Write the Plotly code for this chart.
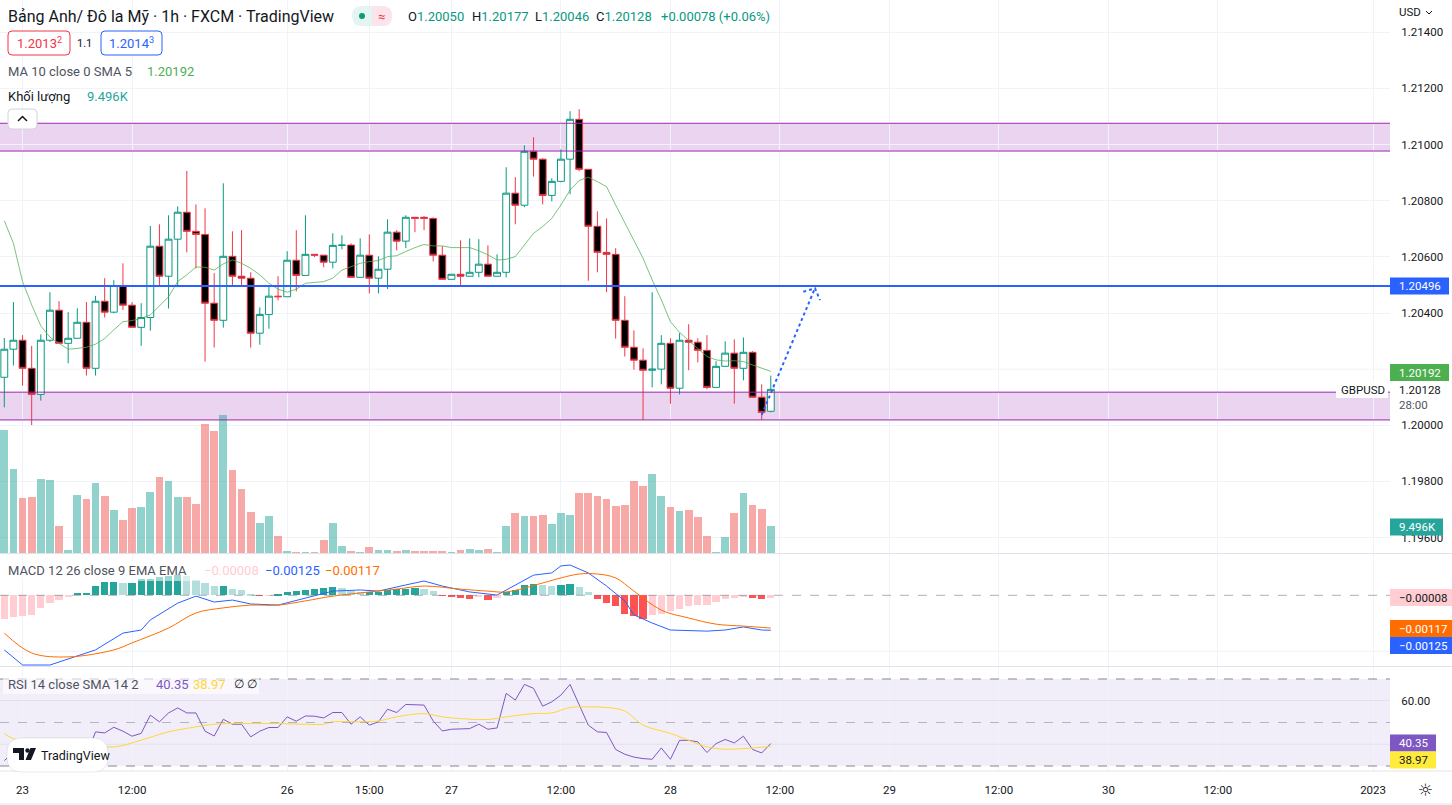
import plotly.graph_objects as go

# ---------------- data ----------------
bar_index = list(range(85))
opens = [1.20171, 1.20271, 1.20303, 1.20203, 1.20110, 1.20303, 1.20410, 1.20292, 1.20310, 1.20367,
         1.20203, 1.20442, 1.20403, 1.20498, 1.20428, 1.20349, 1.20384, 1.20638, 1.20531, 1.20663,
         1.20759, 1.20691, 1.20680, 1.20435, 1.20374, 1.20602, 1.20531, 1.20524, 1.20328, 1.20395,
         1.20460, 1.20458, 1.20588, 1.20534, 1.20609, 1.20606, 1.20581, 1.20641, 1.20642, 1.20527,
         1.20606, 1.20524, 1.20556, 1.20688, 1.20656, 1.20741, 1.20741, 1.20737, 1.20606, 1.20520,
         1.20538, 1.20531, 1.20545, 1.20574, 1.20531, 1.20545, 1.20827, 1.20784, 1.20976, 1.20948,
         1.20819, 1.20869, 1.20948, 1.21090, 1.20912, 1.20709, 1.20616, 1.20609, 1.20374, 1.20278,
         1.20232, 1.20196, 1.20200, 1.20292, 1.20132, 1.20303, 1.20296, 1.20267, 1.20135, 1.20210,
         1.20257, 1.20203, 1.20260, 1.20100, 1.20050]
highs = [1.20311, 1.20439, 1.20321, 1.20283, 1.20324, 1.20474, 1.20442, 1.20403, 1.20417, 1.20439,
         1.20461, 1.20524, 1.20517, 1.20577, 1.20439, 1.20435, 1.20710, 1.20716, 1.20748, 1.20780,
         1.20906, 1.20787, 1.20773, 1.20542, 1.20862, 1.20691, 1.20695, 1.20545, 1.20420, 1.20499,
         1.20531, 1.20620, 1.20695, 1.20748, 1.20609, 1.20606, 1.20684, 1.20677, 1.20648, 1.20666,
         1.20680, 1.20602, 1.20734, 1.20695, 1.20748, 1.20741, 1.20745, 1.20741, 1.20638, 1.20538,
         1.20659, 1.20666, 1.20663, 1.20641, 1.20609, 1.20919, 1.20884, 1.20997, 1.21026, 1.20951,
         1.20880, 1.20983, 1.21119, 1.21126, 1.20912, 1.20762, 1.20737, 1.20631, 1.20460, 1.20338,
         1.20274, 1.20474, 1.20321, 1.20310, 1.20328, 1.20360, 1.20310, 1.20321, 1.20228, 1.20299,
         1.20306, 1.20313, 1.20264, 1.20146, 1.20177]
lows = [1.20064, 1.20213, 1.20141, 1.20001, 1.20088, 1.20297, 1.20292, 1.20221, 1.20310, 1.20177,
        1.20177, 1.20384, 1.20399, 1.20411, 1.20349, 1.20283, 1.20337, 1.20499, 1.20416, 1.20492,
        1.20616, 1.20559, 1.20227, 1.20277, 1.20348, 1.20495, 1.20495, 1.20277, 1.20287, 1.20344,
        1.20445, 1.20458, 1.20477, 1.20534, 1.20599, 1.20563, 1.20559, 1.20627, 1.20527, 1.20527,
        1.20470, 1.20470, 1.20485, 1.20623, 1.20631, 1.20688, 1.20695, 1.20584, 1.20520, 1.20520,
        1.20499, 1.20531, 1.20527, 1.20531, 1.20531, 1.20527, 1.20716, 1.20777, 1.20886, 1.20787,
        1.20798, 1.20866, 1.20823, 1.20905, 1.20515, 1.20545, 1.20474, 1.20309, 1.20245, 1.20198,
        1.20019, 1.20135, 1.20146, 1.20077, 1.20110, 1.20196, 1.20224, 1.20128, 1.20135, 1.20210,
        1.20077, 1.20160, 1.20100, 1.20019, 1.20046]
closes = [1.20271, 1.20303, 1.20203, 1.20110, 1.20303, 1.20410, 1.20292, 1.20310, 1.20367, 1.20203,
          1.20442, 1.20403, 1.20498, 1.20428, 1.20349, 1.20384, 1.20638, 1.20531, 1.20663, 1.20759,
          1.20691, 1.20680, 1.20435, 1.20374, 1.20602, 1.20531, 1.20524, 1.20328, 1.20395, 1.20460,
          1.20458, 1.20588, 1.20534, 1.20609, 1.20606, 1.20581, 1.20641, 1.20642, 1.20527, 1.20606,
          1.20524, 1.20556, 1.20688, 1.20656, 1.20741, 1.20737, 1.20737, 1.20606, 1.20520, 1.20538,
          1.20531, 1.20545, 1.20574, 1.20531, 1.20545, 1.20827, 1.20784, 1.20976, 1.20948, 1.20819,
          1.20869, 1.20948, 1.21090, 1.20912, 1.20709, 1.20616, 1.20609, 1.20374, 1.20278, 1.20232,
          1.20196, 1.20200, 1.20292, 1.20132, 1.20303, 1.20296, 1.20267, 1.20135, 1.20210, 1.20257,
          1.20203, 1.20260, 1.20100, 1.20046, 1.20128]
volume_k = [42.9, 29.3, 19.2, 19.6, 25.9, 25.5, 9.5, 1.2, 20.3, 18.9,
            24.5, 19.9, 15.1, 11.6, 15.8, 16.1, 21.3, 26.5, 25.2, 19.6,
            19.6, 17.2, 45.0, 42.5, 48.1, 29.0, 22.4, 14.4, 10.5, 13.0,
            6.0, 0.8, 0.5, 0.5, 0.5, 4.6, 10.5, 2.6, 0.8, 0.5,
            2.2, 1.2, 1.2, 0.8, 1.2, 0.8, 0.8, 0.8, 0.8, 0.5,
            1.2, 1.5, 1.2, 1.5, 0.5, 9.5, 14.0, 13.0, 13.0, 13.3,
            10.2, 14.0, 13.3, 21.0, 21.0, 19.9, 18.9, 16.5, 16.8, 25.2,
            23.4, 27.6, 19.9, 16.1, 14.7, 15.1, 12.6, 6.0, 0.5, 5.7,
            14.0, 21.0, 16.8, 15.4, 9.496]
ma10 = [1.20729, 1.20648, 1.20512, 1.20429, 1.20354, 1.20314, 1.20292, 1.20271, 1.20274, 1.20278,
        1.20289, 1.20309, 1.20340, 1.20369, 1.20373, 1.20381, 1.20393, 1.20425, 1.20458, 1.20512,
        1.20536, 1.20564, 1.20563, 1.20553, 1.20575, 1.20589, 1.20577, 1.20559, 1.20536, 1.20506,
        1.20485, 1.20474, 1.20485, 1.20506, 1.20508, 1.20512, 1.20524, 1.20553, 1.20565, 1.20577,
        1.20583, 1.20587, 1.20601, 1.20604, 1.20619, 1.20633, 1.20644, 1.20639, 1.20639, 1.20633,
        1.20633, 1.20633, 1.20622, 1.20607, 1.20589, 1.20591, 1.20601, 1.20642, 1.20684, 1.20708,
        1.20737, 1.20785, 1.20838, 1.20872, 1.20884, 1.20868, 1.20850, 1.20785, 1.20720, 1.20660,
        1.20595, 1.20518, 1.20447, 1.20369, 1.20331, 1.20302, 1.20274, 1.20245, 1.20233, 1.20229,
        1.20230, 1.20227, 1.20215, 1.20203, 1.20192]
macd_hist = [-0.00083, -0.00077, -0.00075, -0.00069, -0.00045, -0.00027, -0.00015, -0.00007, 0.00008, 0.00008,
             0.00032, 0.00048, 0.00048, 0.00044, 0.00044, 0.00058, 0.00058, 0.00065, 0.00068, 0.00074,
             0.00070, 0.00056, 0.00044, 0.00032, 0.00032, 0.00024, 0.00018, 0.00006, -0.00001, -0.00001,
             0.00002, 0.00012, 0.00017, 0.00020, 0.00023, 0.00026, 0.00029, 0.00026, 0.00017, 0.00012,
             0.00012, 0.00012, 0.00018, 0.00023, 0.00023, 0.00026, 0.00024, 0.00014, -0.00002, -0.00006,
             -0.00010, -0.00012, -0.00006, -0.00015, -0.00010, 0.00011, 0.00018, 0.00036, 0.00042, 0.00036,
             0.00035, 0.00036, 0.00040, 0.00030, 0.00012, -0.00012, -0.00027, -0.00039, -0.00067, -0.00075,
             -0.00083, -0.00069, -0.00067, -0.00057, -0.00048, -0.00037, -0.00033, -0.00033, -0.00025, -0.00012,
             -0.00010, -0.00006, -0.00010, -0.00012, -0.00008]
macd_idx = [0, 2, 5, 10, 13, 15, 16, 19, 21, 23, 25, 27, 30, 33, 36, 39, 41, 44, 46, 48,
            51, 54, 55, 58, 60, 61, 62, 64, 66, 68, 69, 71, 73, 77, 79, 81, 83, 84]
macd_val = [-0.00195, -0.00249, -0.00249, -0.00195, -0.00135, -0.00124, -0.00088, -0.00028, -0.00003, -0.00024,
            -0.00017, -0.00031, -0.00035, -0.00010, 0.00015, 0.00019, 0.00015, 0.00037, 0.00051, 0.00033,
            0.00012, 0.00001, 0.00019, 0.00072, 0.00080, 0.00105, 0.00108, 0.00080, 0.00033, -0.00020,
            -0.00070, -0.00099, -0.00124, -0.00128, -0.00124, -0.00113, -0.00124, -0.00125]
signal_idx = [0, 3, 7, 12, 14, 18, 21, 24, 27, 30, 33, 36, 40, 43, 46, 50, 53, 55, 59, 61,
              63, 65, 67, 69, 72, 75, 78, 81, 84]
signal_val = [-0.00135, -0.00206, -0.00220, -0.00195, -0.00170, -0.00117, -0.00063, -0.00045, -0.00035, -0.00035,
              -0.00020, -0.00003, 0.00012, 0.00022, 0.00033, 0.00022, 0.00015, 0.00012, 0.00044, 0.00062,
              0.00076, 0.00076, 0.00062, 0.00015, -0.00053, -0.00081, -0.00103, -0.00110, -0.00117]
rsi = [32.5, 36.0, 33.0, 29.0, 38.0, 41.0, 38.0, 39.0, 41.0, 35.0,
       45.7, 45.2, 47.8, 46.0, 43.7, 45.0, 53.4, 50.3, 54.4, 56.7,
       54.4, 54.4, 46.0, 43.8, 51.5, 49.2, 49.2, 43.4, 46.0, 47.7,
       47.7, 52.6, 50.6, 53.0, 52.9, 52.1, 54.6, 54.6, 49.2, 52.6,
       48.8, 50.3, 56.1, 54.6, 58.3, 58.3, 58.0, 50.7, 46.1, 46.9,
       46.9, 47.2, 49.2, 46.9, 47.5, 63.4, 60.3, 67.5, 65.7, 57.5,
       59.5, 62.6, 67.5, 58.0, 48.8, 45.7, 45.4, 37.6, 35.4, 34.1,
       33.4, 33.1, 38.3, 33.1, 41.8, 41.8, 41.1, 36.2, 40.3, 42.2,
       40.6, 43.7, 37.6, 36.0, 40.35]
rsi_ma_idx = [0, 1, 12, 14, 16, 18, 21, 23, 25, 27, 30, 33, 35, 36, 39, 41, 43, 46, 48, 50,
              53, 55, 58, 60, 62, 64, 66, 68, 70, 73, 75, 77, 79, 81, 84]
rsi_ma_val = [45.0, 42.6, 38.8, 40.6, 43.2, 45.7, 48.0, 49.2, 49.5, 49.5,
              49.5, 49.2, 49.2, 50.3, 50.3, 50.7, 52.6, 54.1, 52.6, 51.8,
              51.4, 52.6, 54.1, 54.4, 56.9, 57.2, 56.9, 55.3, 48.8, 45.0,
              41.8, 38.8, 37.7, 38.0, 38.97]
time_tick_idx = [2, 14, 31, 40, 49, 61, 73, 85, 97, 109, 121, 133, 150]
time_tick_text = ["23", "12:00", "26", "15:00", "27", "12:00", "28", "12:00", "29", "12:00", "30", "12:00", "2023"]
price_ticks = [1.196, 1.198, 1.200, 1.204, 1.206, 1.208, 1.210, 1.212, 1.214]
covered_price_grid = [1.202]
macd_grid = [-0.002]
rsi_ticks = [60]
rsi_grid = [40]
zone_upper = [1.20977, 1.21076]
zone_lower = [1.20019, 1.20118]
hline_price = 1.20496
arrow_idx = [83.0, 88.84]
arrow_price = [1.20037, 1.20488]
arrow_head_idx = [87.56, 88.84, 89.39]
arrow_head_price = [1.20476, 1.20488, 1.20446]

# ---------------- geometry / style ----------------
W, H = 1452, 805
MR, MB = 62, 34
PW, PH = W - MR, H - MB
FONT = "Roboto"
DARK = "#131722"
GREEN = "#089981"
RED = "#F23645"
GRID = "#F0F3FA"


def PX(x):
    return x / PW


def PY(y):
    return 1 - y / PH


fig = go.Figure()

vol_colors = ["rgba(38,166,154,0.5)" if c >= o else "rgba(239,83,80,0.5)" for o, c in zip(opens, closes)]
fig.add_trace(go.Bar(x=bar_index, y=volume_k, marker=dict(color=vol_colors, line=dict(width=0)),
                     width=0.86, xaxis="x", yaxis="y", hoverinfo="skip"))
fig.add_trace(go.Candlestick(x=bar_index, open=opens, high=highs, low=lows, close=closes,
                             increasing=dict(line=dict(color=GREEN, width=1), fillcolor="#FFFFFF"),
                             decreasing=dict(line=dict(color=RED, width=1), fillcolor="#000000"),
                             whiskerwidth=0, xaxis="x", yaxis="y2", hoverinfo="skip"))
fig.add_trace(go.Scatter(x=bar_index, y=ma10, mode="lines", line=dict(color="rgba(76,175,80,0.75)", width=1),
                         xaxis="x", yaxis="y2", hoverinfo="skip"))
fig.add_trace(go.Scatter(x=arrow_idx, y=arrow_price, mode="lines",
                         line=dict(color="#2962FF", width=2, dash="dot"), xaxis="x", yaxis="y2", hoverinfo="skip"))
fig.add_trace(go.Scatter(x=arrow_head_idx, y=arrow_head_price, mode="lines",
                         line=dict(color="#2962FF", width=2, dash="dot"), xaxis="x", yaxis="y2", hoverinfo="skip"))

# MACD
hist_colors = []
for i, v in enumerate(macd_hist):
    prev = macd_hist[i - 1] if i > 0 else v
    if v >= 0:
        hist_colors.append("#26A69A" if v >= prev else "#B2DFDB")
    else:
        hist_colors.append("#FFCDD2" if v >= prev else "#FF5252")
fig.add_trace(go.Bar(x=bar_index, y=macd_hist, marker=dict(color=hist_colors, line=dict(width=0)),
                     width=0.8, xaxis="x", yaxis="y3", hoverinfo="skip"))
fig.add_trace(go.Scatter(x=macd_idx, y=macd_val, mode="lines", line=dict(color="#2962FF", width=1),
                         xaxis="x", yaxis="y3", hoverinfo="skip"))
fig.add_trace(go.Scatter(x=signal_idx, y=signal_val, mode="lines", line=dict(color="#FF6D00", width=1),
                         line_shape="spline", xaxis="x", yaxis="y3", hoverinfo="skip"))

# RSI
fig.add_trace(go.Scatter(x=bar_index, y=rsi, mode="lines", line=dict(color="#7E57C2", width=1),
                         xaxis="x", yaxis="y4", hoverinfo="skip"))
fig.add_trace(go.Scatter(x=rsi_ma_idx, y=rsi_ma_val, mode="lines", line=dict(color="#FDD835", width=1),
                         line_shape="spline", xaxis="x", yaxis="y4", hoverinfo="skip"))

x_lo = (0 - 4.3) / 9.125
x_hi = (PW - 4.3) / 9.125

shapes = []
annotations = []
# grid lines whose labels are covered in the reference
for gv in covered_price_grid:
    shapes.append(dict(type="line", xref="paper", yref="y2", x0=0, x1=1, y0=gv, y1=gv,
                       line=dict(color=GRID, width=1), layer="below"))
for gv in macd_grid:
    shapes.append(dict(type="line", xref="paper", yref="y3", x0=0, x1=1, y0=gv, y1=gv,
                       line=dict(color=GRID, width=1), layer="below"))
for gv in rsi_grid:
    shapes.append(dict(type="line", xref="paper", yref="y4", x0=0, x1=1, y0=gv, y1=gv,
                       line=dict(color="rgba(120,123,134,0.12)", width=1), layer="below"))
# zones
for z in (zone_upper, zone_lower):
    shapes.append(dict(type="rect", xref="paper", yref="y2", x0=0, x1=1, y0=z[0], y1=z[1],
                       fillcolor="rgba(156,39,176,0.2)", line=dict(width=0), layer="below"))
    for yy in z:
        shapes.append(dict(type="line", xref="paper", yref="y2", x0=0, x1=1, y0=yy, y1=yy,
                           line=dict(color="#9C27B0", width=1)))
shapes.append(dict(type="line", xref="paper", yref="y2", x0=0, x1=1, y0=hline_price, y1=hline_price,
                   line=dict(color="#2962FF", width=2)))
# macd zero line
shapes.append(dict(type="line", xref="paper", yref="y3", x0=0, x1=1, y0=0, y1=0,
                   line=dict(color="rgba(120,123,134,0.6)", width=1, dash="dash")))
# rsi band
shapes.append(dict(type="rect", xref="paper", yref="y4", x0=0, x1=1, y0=30, y1=70,
                   fillcolor="rgba(126,87,194,0.1)", line=dict(width=0), layer="below"))
for lv, col in ((70, "rgba(120,123,134,0.9)"), (50, "rgba(120,123,134,0.5)"), (30, "rgba(120,123,134,0.9)")):
    shapes.append(dict(type="line", xref="paper", yref="y4", x0=0, x1=1, y0=lv, y1=lv,
                       line=dict(color=col, width=1, dash="dash")))
# pane separators
for yy in (553.5, 666.5, 771, 804):
    shapes.append(dict(type="line", xref="paper", yref="paper", x0=0, x1=W / PW, y0=PY(yy), y1=PY(yy),
                       line=dict(color="#E0E3EB", width=1)))


def rect_px(x0, y0, x1, y1, fill, line_color=None, lw=1, layer="above"):
    shapes.append(dict(type="rect", xref="paper", yref="paper", x0=PX(x0), x1=PX(x1), y0=PY(y1), y1=PY(y0),
                       fillcolor=fill, line=dict(color=line_color or "rgba(0,0,0,0)", width=lw if line_color else 0),
                       layer=layer))


def rrect_path(x0, y0, x1, y1, r):
    return (f"M {PX(x0 + r)},{PY(y0)} L {PX(x1 - r)},{PY(y0)} Q {PX(x1)},{PY(y0)} {PX(x1)},{PY(y0 + r)} "
            f"L {PX(x1)},{PY(y1 - r)} Q {PX(x1)},{PY(y1)} {PX(x1 - r)},{PY(y1)} "
            f"L {PX(x0 + r)},{PY(y1)} Q {PX(x0)},{PY(y1)} {PX(x0)},{PY(y1 - r)} "
            f"L {PX(x0)},{PY(y0 + r)} Q {PX(x0)},{PY(y0)} {PX(x0 + r)},{PY(y0)} Z")


def rrect(x0, y0, x1, y1, r, fill, line_color=None, lw=1):
    shapes.append(dict(type="path", xref="paper", yref="paper", path=rrect_path(x0, y0, x1, y1, r),
                       fillcolor=fill, line=dict(color=line_color or "rgba(0,0,0,0)", width=lw if line_color else 0),
                       layer="above"))


# legend backgrounds
rect_px(3, 561, 383, 581, "rgba(255,255,255,0.55)")
rect_px(3, 676, 259, 694, "rgba(255,255,255,0.6)")
# header widgets
rrect(352, 6, 392, 26, 10, "#E3F4F1")
shapes.append(dict(type="path", xref="paper", yref="paper",
                   path=f"M {PX(372)},{PY(6)} L {PX(382)},{PY(6)} Q {PX(392)},{PY(6)} {PX(392)},{PY(16)} "
                        f"Q {PX(392)},{PY(26)} {PX(382)},{PY(26)} L {PX(372)},{PY(26)} Z",
                   fillcolor="#FCE4EC", line=dict(width=0), layer="above"))
shapes.append(dict(type="circle", xref="paper", yref="paper", x0=PX(359), x1=PX(365), y0=PY(19), y1=PY(13),
                   fillcolor=GREEN, line=dict(width=0)))
rrect(8, 31, 70, 55, 4, "#FFFFFF", RED, 1)
rrect(101, 31, 162, 55, 4, "#FFFFFF", "#2962FF", 1)
rrect(8, 109, 37, 129, 4, "#FFFFFF", "#D1D4DC", 1)
shapes.append(dict(type="path", xref="paper", yref="paper",
                   path=f"M {PX(18)},{PY(121)} L {PX(22.5)},{PY(116.5)} L {PX(27)},{PY(121)}",
                   line=dict(color=DARK, width=1.5)))
# TradingView logo box
rrect(7, 738, 108, 772, 15, "#FFFFFF", "rgba(0,0,0,0.08)", 1)
shapes.append(dict(type="path", xref="paper", yref="paper",
                   path=f"M {PX(13)},{PY(748)} L {PX(24)},{PY(748)} L {PX(24)},{PY(760)} L {PX(19)},{PY(760)} "
                        f"L {PX(19)},{PY(753)} L {PX(13)},{PY(753)} Z",
                   fillcolor=DARK, line=dict(width=0)))
shapes.append(dict(type="circle", xref="paper", yref="paper", x0=PX(25.3), x1=PX(29.7), y0=PY(752.7), y1=PY(748.3),
                   fillcolor=DARK, line=dict(width=0)))
shapes.append(dict(type="path", xref="paper", yref="paper",
                   path=f"M {PX(30.5)},{PY(748)} L {PX(36)},{PY(748)} L {PX(31)},{PY(760)} L {PX(25.5)},{PY(760)} Z",
                   fillcolor=DARK, line=dict(width=0)))


def scale_label(yc, text, bg, fg="#FFFFFF", x1=1449):
    rect_px(PW, yc - 8.5, x1, yc + 8.5, bg)
    annotations.append(dict(x=PX(1397), y=PY(yc), xref="paper", yref="paper", text=text, showarrow=False,
                            xanchor="left", yanchor="middle", font=dict(family=FONT, size=11.5, color=fg)))


scale_label(286, "1.20496", "#2962FF")
scale_label(372.5, "1.20192", "#4CAF50")
scale_label(527, "9.496K", "#26A69A", x1=1443)
scale_label(597.5, "\u22120.00008", "#FFCDD2", fg=DARK, x1=1452)
scale_label(628.5, "\u22120.00117", "#FF6D00", x1=1452)
scale_label(645.5, "\u22120.00125", "#2962FF", x1=1452)
scale_label(743, "40.35", "#7E57C2", x1=1436)
scale_label(760, "38.97", "#FFEB3B", fg=DARK, x1=1436)
rect_px(1336, 382, 1388, 398, "#FFFFFF")


def txt(x, y, text, size=13, color=DARK, anchor="left", family=FONT):
    annotations.append(dict(x=PX(x), y=PY(y), xref="paper", yref="paper", text=text, showarrow=False,
                            xanchor=anchor, yanchor="middle", font=dict(family=family, size=size, color=color)))


txt(1397, 390, "1.20128", 11.5)
txt(1397, 404.5, "28:00", 11.5, "#50535E")
txt(1339, 390, "GBPUSD", 11.5)
txt(1397, 12, "USD", 11.5)
shapes.append(dict(type="path", xref="paper", yref="paper",
                   path=f"M {PX(1426)},{PY(11)} L {PX(1429)},{PY(14)} L {PX(1432)},{PY(11)}",
                   line=dict(color=DARK, width=1)))
txt(1425, 790, "\u263C", 17, DARK, "center", "DejaVu Sans")

txt(6, 16, "Bảng Anh/ Đô la Mỹ · 1h · FXCM · TradingView", 16)
txt(376, 16, "≈", 13, RED)
for x0, lab, val in ((406, "O", "1.20050"), (470, "H", "1.20177"), (533, "L", "1.20046"), (594, "C", "1.20128")):
    txt(x0, 16, f"<span style='color:{DARK}'>{lab}</span><span style='color:{GREEN}'>{val}</span>", 13)
txt(659, 16, "+0.00078 (+0.06%)", 13, GREEN)
txt(39, 43, "1.2013<sup>2</sup>", 13, RED, "center")
txt(84.5, 43, "1.1", 11, DARK, "center")
txt(131.5, 43, "1.2014<sup>3</sup>", 13, "#2962FF", "center")
txt(6, 71, "MA 10 close 0 SMA 5", 13, "#50535E")
txt(145, 71, "1.20192", 13, "#4CAF50")
txt(6, 96, "Khối lượng", 13, DARK)
txt(85, 96, "9.496K", 13, "#26A69A")
txt(6, 570, "MACD 12 26 close 9 EMA EMA", 13, "#50535E")
txt(202, 570, "\u22120.00008", 13, "#FFCDD2")
txt(263, 570, "\u22120.00125", 13, "#2962FF")
txt(323, 570, "\u22120.00117", 13, "#FF6D00")
txt(6, 684, "RSI 14 close SMA 14 2", 13, "#50535E")
txt(154, 684, "40.35", 13, "#7E57C2")
txt(191, 684, "38.97", 13, "#FDD835")
txt(232, 684, "∅", 12, DARK)
txt(245, 684, "∅", 12, DARK)
txt(39, 755.5, "TradingView", 12.5, DARK)

fig.update_layout(
    width=W, height=H,
    margin=dict(l=0, r=MR, t=0, b=MB),
    paper_bgcolor="#FFFFFF", plot_bgcolor="#FFFFFF",
    showlegend=False, bargap=0, boxgap=0.25, boxgroupgap=0,
    hovermode=False,
    font=dict(family=FONT, size=12, color=DARK),
    xaxis=dict(range=[x_lo, x_hi], anchor="y4", tickmode="array", tickvals=time_tick_idx,
               ticktext=time_tick_text, showgrid=True, gridcolor=GRID, zeroline=False, showline=False,
               ticks="outside", ticklen=8, tickcolor="rgba(0,0,0,0)", tickfont=dict(size=11.5, color=DARK),
               rangeslider=dict(visible=False)),
    yaxis=dict(domain=[PY(553), 1], range=[0, 192.35], visible=False, fixedrange=True),
    yaxis2=dict(overlaying="y", side="right", anchor="x", range=[1.19545, 1.215151], tickmode="array",
                tickvals=price_ticks, tickformat=".5f", showgrid=True, gridcolor=GRID, zeroline=False,
                ticks="outside", ticklen=8, tickcolor="rgba(0,0,0,0)", tickfont=dict(size=11.5, color=DARK)),
    yaxis3=dict(domain=[PY(666), PY(554)], anchor="x", side="right", range=[-0.002525, 0.001475],
                showgrid=False, zeroline=False, showticklabels=False, ticks=""),
    yaxis4=dict(domain=[0, PY(667)], anchor="x", side="right", range=[27.7, 75.52], tickmode="array",
                tickvals=rsi_ticks, tickformat=".2f", showgrid=True, gridcolor="rgba(120,123,134,0.12)",
                zeroline=False, ticks="outside", ticklen=8, tickcolor="rgba(0,0,0,0)",
                tickfont=dict(size=11.5, color=DARK)),
    shapes=shapes,
    annotations=annotations,
)

fig.write_html("out.html", config={"displayModeBar": False},
               post_script="document.body.style.margin='0px';document.body.style.overflow='hidden';")
